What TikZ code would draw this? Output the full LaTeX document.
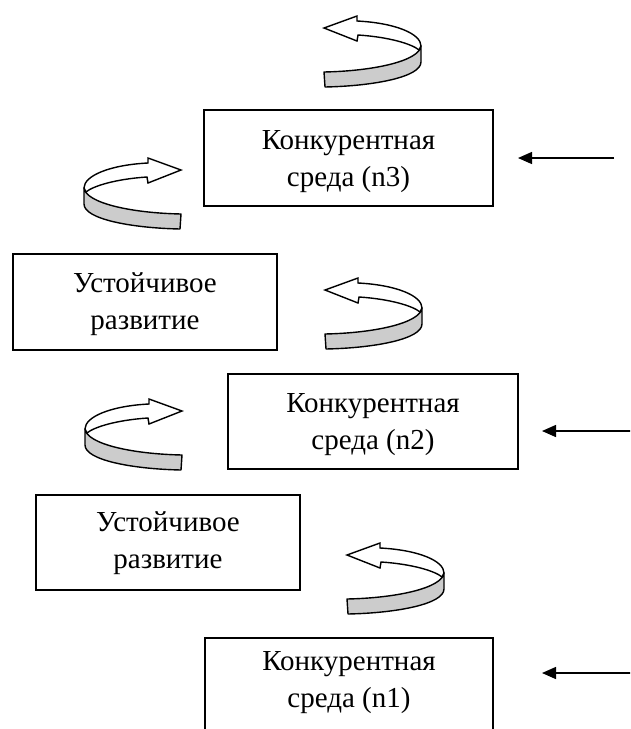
\documentclass[tikz,border=0pt]{standalone}
\usepackage{fontspec}
\setmainfont{Liberation Serif}
\usetikzlibrary{arrows.meta}
\tikzset{
  box/.style={draw, line width=1.4pt, rectangle, inner sep=0pt},
  txt/.style={align=center, font=\fontsize{29}{37}\selectfont, inner sep=0pt},
  inarrow/.style={line width=1.4pt, -{Triangle[length=14pt,width=12pt]}},
  uarrow/.pic={
    \draw[line width=1.4pt, fill=gray!40, line join=round]
      (97,30) .. controls (95,45) and (50,55) .. (0,56) -- (1,71)
      .. controls (50,70) and (97,61) .. (97,46) -- cycle;
    \draw[line width=1.4pt, fill=white, line join=miter]
      (0,12) -- (33,0) -- (33,5) .. controls (72,7) and (97,18) .. (97,30)
      -- (95,34) .. controls (88,28) and (65,21) .. (34,19) -- (33,25) -- cycle;
  }
}
\begin{document}
\begin{tikzpicture}[x=1pt,y=-1pt]
\useasboundingbox (0,0) rectangle (630,729);
\clip (0,0) rectangle (630,729);
% boxes
\node[box, minimum width=289pt, minimum height=96pt] (n3) at (348.5,158) {};
\node[txt] (t3) at (348.5,162) {Конкурентная\\среда (n3)};
\node[box, minimum width=264pt, minimum height=96pt] (u1) at (145,302) {};
\node[txt] (tu1) at (145,304) {Устойчивое\\развитие};
\node[box, minimum width=290pt, minimum height=95pt] (n2) at (373,421.5) {};
\node[txt] (t2) at (373,425) {Конкурентная\\среда (n2)};
\node[box, minimum width=264pt, minimum height=95pt] (u2) at (168,542.5) {};
\node[txt] (tu2) at (168,543) {Устойчивое\\развитие};
\node[box, minimum width=288pt, minimum height=100pt] (n1) at (349,688) {};
\node[txt] (t1) at (349,683) {Конкурентная\\среда (n1)};
% straight arrows
\coordinate (s3) at (614,158);
\coordinate (e3) at (518,158);
\coordinate (s2) at (632,431);
\coordinate (e2) at (542,431);
\coordinate (s1) at (632,673);
\coordinate (e1) at (542,673);
\draw[inarrow] (s3) -- (e3);
\draw[inarrow] (s2) -- (e2);
\draw[inarrow] (s1) -- (e1);
% curved arrows
\pic at (324,16) {uarrow};
\pic[xscale=-1] at (181,158) {uarrow};
\pic at (325,278) {uarrow};
\pic[xscale=-1] at (182,399) {uarrow};
\pic at (347,543) {uarrow};
\end{tikzpicture}
\end{document}
